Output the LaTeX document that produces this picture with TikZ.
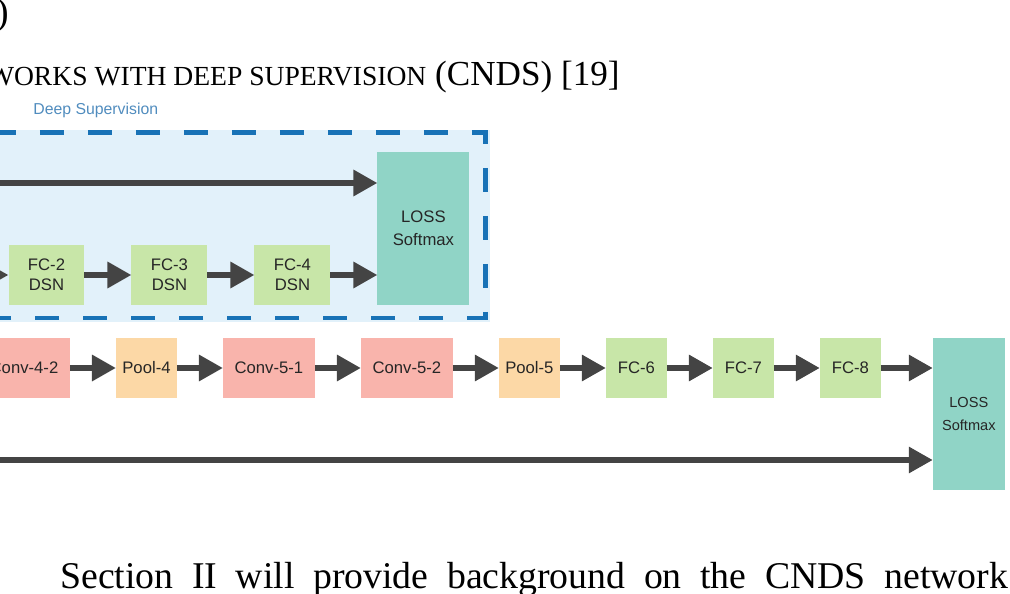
\documentclass[tikz,border=0pt]{standalone}
\usepackage{fontspec}
\setmainfont{Liberation Serif}
\setsansfont{Liberation Sans}
\usetikzlibrary{positioning, arrows.meta}

\definecolor{convpink}{RGB}{249,180,172}
\definecolor{poolorange}{RGB}{252,216,166}
\definecolor{fcgreen}{RGB}{200,230,168}
\definecolor{lossteal}{RGB}{144,212,198}
\definecolor{dsbg}{RGB}{226,241,250}
\definecolor{dsblue}{RGB}{24,114,182}
\definecolor{labelblue}{RGB}{80,140,190}
\definecolor{arrowgray}{RGB}{68,68,68}

\begin{document}
\begin{tikzpicture}[
	x=0.02cm, y=-0.02cm,
	node distance=0.92cm,
	% --- Styles ---
	layer/.style={
		rectangle, inner sep=0pt, outer sep=0pt, minimum height=1.2cm, align=center,
		font=\sffamily\fontsize{9.5}{11.5}\selectfont, text=black!85
	},
	convbox/.style={layer, fill=convpink, minimum width=1.84cm},
	poolbox/.style={layer, fill=poolorange, minimum width=1.22cm},
	fcbox/.style={layer, fill=fcgreen, minimum width=1.22cm},
	dsnbox/.style={layer, fill=fcgreen, minimum width=1.52cm},
	lossbox/.style={layer, fill=lossteal, font=\sffamily\fontsize{9.5}{13}\selectfont},
	line/.style={
		draw, -{Triangle[length=0.48cm, width=0.5cm]}, line width=0.12cm, color=arrowgray
	},
	papertext/.style={font=\fontsize{21.5}{26}\selectfont, inner sep=0pt}
	]
	
	\useasboundingbox (0,0) rectangle (1010,594);
	
	% --- 1. Surrounding page text ---
	\node [papertext, anchor=base east] (paren) at (9,25) {)};
	\node [papertext, font=\fontsize{20}{24}\selectfont, anchor=base east] (title) at (620,86)
	{{\fontsize{15.7}{20}\selectfont WORKS WITH DEEP SUPERVISION} (CNDS) [19]};
	\node [papertext, anchor=base west] (body) at (60,588)
	{\makebox[18.96cm][s]{Section II will provide background on the CNDS network}};
	
	% --- 2. Deep supervision region ---
	\fill [dsbg] (-10,130) rectangle (490,322);
	\draw [dsblue, line width=0.1cm, dash pattern=on 0.48cm off 0.48cm]
	(-8,133) -- (485,133) -- (485,318) -- (-8,318);
	\node [font=\sffamily\fontsize{9}{11}\selectfont, text=labelblue, anchor=west, inner sep=0pt]
	(ds_label) at (33,110) {Deep Supervision};
	
	% DSN branch
	\node [dsnbox] (fc2dsn) at (46.5,275) {FC-2\\DSN};
	\node [dsnbox, right=0.94cm of fc2dsn] (fc3dsn) {FC-3\\DSN};
	\node [dsnbox, right=0.94cm of fc3dsn] (fc4dsn) {FC-4\\DSN};
	\node [lossbox, minimum width=1.84cm, minimum height=3.06cm,
	right=0.94cm of fc4dsn.south east, anchor=south west] (loss_ds) {LOSS\\Softmax};
	
	% --- 3. Main branch ---
	\node [convbox] (conv42) at (24,368) {Conv-4-2};
	\node [poolbox, right=of conv42] (pool4) {Pool-4};
	\node [convbox, right=of pool4] (conv51) {Conv-5-1};
	\node [convbox, right=of conv51] (conv52) {Conv-5-2};
	\node [poolbox, right=of conv52] (pool5) {Pool-5};
	\node [fcbox, right=of pool5] (fc6) {FC-6};
	\node [fcbox, right=of fc6] (fc7) {FC-7};
	\node [fcbox, right=of fc7] (fc8) {FC-8};
	\node [lossbox, minimum width=1.44cm, minimum height=3.04cm,
	font=\sffamily\fontsize{8.3}{13}\selectfont,
	right=1.04cm of fc8.north east, anchor=north west] (loss_main) {LOSS\\Softmax};
	
	% --- 4. Connections ---
	\coordinate (ds_in) at (-20,275);
	\coordinate (top_in) at (-20,183);
	\coordinate (bottom_in) at (-20,460);
	
	\draw [line] (ds_in) -- (fc2dsn);
	\draw [line] (fc2dsn) -- (fc3dsn);
	\draw [line] (fc3dsn) -- (fc4dsn);
	\draw [line] (fc4dsn) -- (fc4dsn -| loss_ds.west);
	\draw [line] (top_in) -- (top_in -| loss_ds.west);
	
	\foreach \a/\b in {conv42/pool4, pool4/conv51, conv51/conv52, conv52/pool5, pool5/fc6, fc6/fc7, fc7/fc8}
	\draw [line] (\a) -- (\b);
	\draw [line] (fc8) -- (fc8 -| loss_main.west);
	\draw [line] (bottom_in) -- (bottom_in -| loss_main.west);
	
\end{tikzpicture}
\end{document}
